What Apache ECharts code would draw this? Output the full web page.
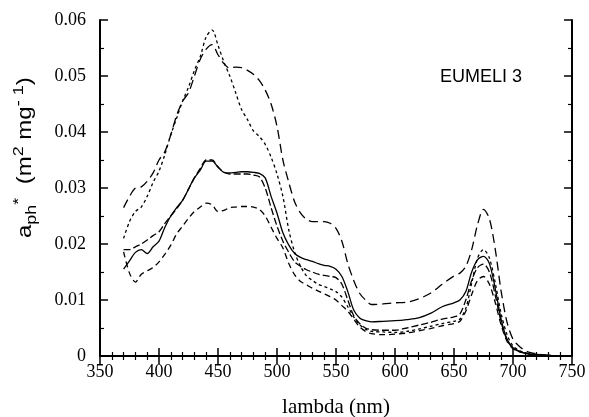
<!DOCTYPE html>
<html>
<head>
<meta charset="utf-8">
<script src="https://cdn.jsdelivr.net/npm/echarts@6/dist/echarts.min.js"></script>
<style>html,body{margin:0;padding:0;background:#fff}#c{width:589px;height:417px}</style>
</head>
<body>
<div id="c"></div>
<script>
var wavelength = [370,375,380,385,390,395,400,405,410,415,420,425,430,435,440,445,450,455,460,465,470,475,480,485,490,495,500,505,510,515,520,525,530,535,540,545,550,555,560,565,570,575,580,590,600,610,620,630,640,650,655,660,665,670,675,680,685,690,695,700,705,710,715,720,730,740,750];

var seriesA = [.0265,.0285,.0300,.0302,.0312,.0327,.0350,.0365,.0395,.0430,.0455,.0470,.0500,.0530,.0548,.0556,.0538,.0522,.0514,.0516,.0515,.0510,.0503,.0492,.0475,.0450,.0410,.0350,.0310,.0275,.0255,.0244,.0240,.0240,.0240,.0237,.0228,.0205,.0165,.0135,.0112,.0100,.0092,.0093,.0095,.0096,.0102,.0112,.0128,.0143,.0148,.0160,.0190,.0235,.0262,.0245,.0190,.0115,.0060,.0030,.0018,.0010,.0006,.0004,.0001,0,0];

var seriesB = [.0210,.0240,.0258,.0266,.0285,.0310,.0330,.0360,.0395,.0425,.0455,.0480,.0510,.0535,.0570,.0582,.0555,.0525,.0500,.0470,.0440,.0422,.0402,.0392,.0378,.0355,.0325,.0285,.0225,.0185,.0160,.0143,.0135,.0128,.0124,.0120,.0115,.0105,.0088,.0070,.0056,.0048,.0044,.0043,.0042,.0044,.0048,.0053,.0058,.0062,.0066,.0085,.0130,.0175,.0190,.0175,.0130,.0075,.0038,.0018,.0010,.0006,.0004,.0003,.0001,0,0];

var seriesC = [.0155,.0170,.0185,.0190,.0183,.0195,.0205,.0230,.0250,.0265,.0278,.0298,.0318,.0332,.0348,.0348,.0337,.0328,.0327,.0328,.0329,.0329,.0328,.0326,.0318,.0285,.0255,.0220,.0198,.0183,.0176,.0172,.0169,.0165,.0162,.0160,.0155,.0142,.0115,.0082,.0068,.0063,.0061,.0062,.0063,.0065,.0068,.0076,.0088,.0095,.0100,.0115,.0150,.0172,.0178,.0165,.0120,.0065,.0030,.0015,.0009,.0005,.0003,.0002,.0001,0,0];

var seriesD = [.0190,.0190,.0195,.0200,.0207,.0215,.0222,.0237,.0250,.0263,.0278,.0298,.0318,.0335,.0350,.0350,.0338,.0328,.0325,.0325,.0325,.0325,.0323,.0320,.0300,.0265,.0232,.0205,.0185,.0168,.0160,.0154,.0150,.0146,.0144,.0142,.0140,.0128,.0100,.0072,.0058,.0050,.0047,.0046,.0046,.0050,.0055,.0060,.0066,.0070,.0075,.0100,.0135,.0158,.0164,.0150,.0108,.0060,.0028,.0014,.0008,.0005,.0003,.0002,.0001,0,0];

var seriesE = [.0186,.0148,.0132,.0146,.0152,.0158,.0168,.0182,.0198,.0218,.0232,.0246,.0258,.0266,.0273,.0270,.0258,.0260,.0265,.0266,.0267,.0267,.0266,.0262,.0250,.0230,.0210,.0193,.0165,.0145,.0133,.0127,.0121,.0116,.0111,.0106,.0100,.0090,.0080,.0066,.0052,.0044,.0040,.0038,.0039,.0041,.0045,.0049,.0054,.0058,.0062,.0080,.0110,.0135,.0142,.0128,.0095,.0055,.0026,.0013,.0008,.0005,.0003,.0002,.0001,0,0];

var xTicks = [350,400,450,500,550,600,650,700,750];
var yTicks = [0,0.01,0.02,0.03,0.04,0.05,0.06];

function pairs(vals){ return wavelength.map(function(w,i){ return [w, vals[i]]; }); }

var chart = echarts.init(document.getElementById('c'), null, {renderer:'canvas'});
var axisLine = {show:true, lineStyle:{color:'#000', width:2}};
var serif = 'Liberation Serif';
function xAx(pos, showLabel){
  return {type:'value', position:pos, min:xTicks[0], max:xTicks[xTicks.length-1], interval:50,
    axisLine:axisLine, axisTick:{show:true, inside:true, length:8, lineStyle:{color:'#000',width:1.5}},
    minorTick:{show:true, splitNumber:5, length:4, lineStyle:{color:'#000',width:1.2}},
    splitLine:{show:false}, minorSplitLine:{show:false},
    axisLabel:{show:showLabel, color:'#000', fontFamily:serif, fontSize:18, margin:7},
    name: showLabel ? 'lambda (nm)' : '', nameLocation:'middle', nameGap:41,
    nameTextStyle:{color:'#000', fontFamily:serif, fontSize:21}};
}
function yAx(pos, showLabel){
  return {type:'value', position:pos, min:yTicks[0], max:yTicks[yTicks.length-1], interval:0.01,
    axisLine:axisLine, axisTick:{show:true, inside:true, length:8, lineStyle:{color:'#000',width:1.5}},
    minorTick:{show:true, splitNumber:2, length:4, lineStyle:{color:'#000',width:1.2}},
    splitLine:{show:false}, minorSplitLine:{show:false},
    axisLabel:{show:showLabel, color:'#000', fontFamily:serif, fontSize:18, margin:14,
      formatter:function(v){ return v===0 ? '0' : v.toFixed(2); }}};
}
function line(vals, type){
  return {type:'line', data:pairs(vals), xAxisIndex:0, yAxisIndex:0, symbol:'none', smooth:0.3,
    lineStyle:{color:'#000', width:1.3, type:type}, silent:true, animation:false};
}
var sans = 'Liberation Sans';
chart.setOption({
  animation:false,
  backgroundColor:'#fff',
  title:{text:'EUMELI 3', left:435, top:63, textStyle:{fontFamily:sans, fontWeight:'normal', fontSize:18, color:'#000'}},
  grid:{left:100, right:17, top:20, bottom:61, containLabel:false, outerBoundsMode:'none'},
  xAxis:[xAx('bottom', true), xAx('top', false)],
  yAxis:[yAx('left', true), yAx('right', false)],
  graphic:[{
    type:'text', x:25, y:238, rotation:Math.PI/2, scaleX:1.2, scaleY:1, silent:true,
    style:{
      text:'{a|a}{sub|ph}{sup|*}{n|  (m}{sup|2}{n| mg}{sup|- 1}{n|)}',
      align:'left', verticalAlign:'middle', fill:'#000', fontFamily:sans, fontSize:20,
      rich:{
        a:{fontFamily:sans, fontSize:20, lineHeight:28, verticalAlign:'middle', fill:'#000'},
        n:{fontFamily:sans, fontSize:20, lineHeight:28, verticalAlign:'middle', fill:'#000'},
        sub:{fontFamily:sans, fontSize:15, lineHeight:15, verticalAlign:'bottom', fill:'#000'},
        sup:{fontFamily:sans, fontSize:15, lineHeight:15, verticalAlign:'top', fill:'#000'}
      }
    }
  }],
  series:[
    line(seriesA, [9,5]),
    line(seriesB, [3,3]),
    line(seriesC, 'solid'),
    line(seriesD, [7,3]),
    line(seriesE, [6,4])
  ]
});
</script>
</body>
</html>
